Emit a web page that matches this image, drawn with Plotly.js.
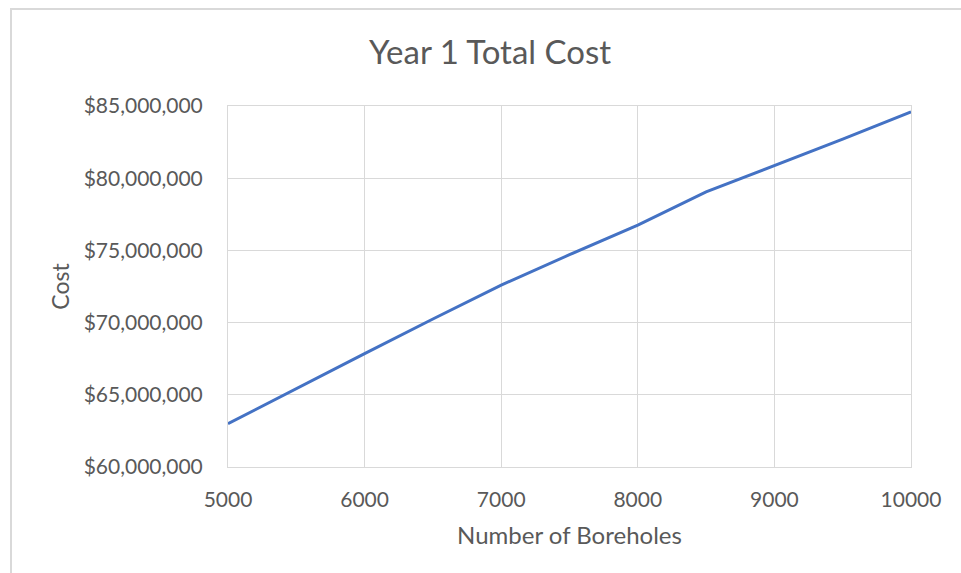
<!DOCTYPE html>
<html>
<head>
<meta charset="utf-8">
<script src="https://cdn.plot.ly/plotly-3.0.1.min.js"></script>
<style>
  html, body { margin: 0; padding: 0; background: #ffffff; }
  #wrap { position: relative; width: 961px; height: 573px; overflow: hidden; }
  #chart { width: 961px; height: 573px; }
  /* chart-area frame, only its top and left edges fall inside the page */
  #frame {
    position: absolute; left: 10px; top: 8px; width: 1000px; height: 1000px;
    border-top: 2px solid #d9d9d9; border-left: 2px solid #d9d9d9;
    pointer-events: none; box-sizing: border-box;
  }
</style>
</head>
<body>
<div id="wrap">
  <div id="chart"></div>
  <div id="frame"></div>
</div>
<script>
// Number of boreholes drilled vs. total first-year cost (USD)
const boreholes = [5000, 5500, 6000, 6500, 7000, 7500, 8000, 8500, 9000, 9500, 10000];
const year1Cost = [63.0e6, 65.45e6, 67.85e6, 70.25e6, 72.6e6, 74.7e6, 76.75e6, 79.05e6, 80.85e6, 82.7e6, 84.6e6];

const fontFamily = 'Lato, "Open Sans", "Liberation Sans", sans-serif';
const textGray = '#595959';
const gridGray = '#d9d9d9';

const trace = {
  x: boreholes,
  y: year1Cost,
  type: 'scatter',
  mode: 'lines',
  line: { color: '#4472C4', width: 3 },
  hoverinfo: 'x+y'
};

const layout = {
  width: 961,
  height: 573,
  margin: { l: 228, r: 50, t: 106, b: 106, pad: 0 },
  paper_bgcolor: '#ffffff',
  plot_bgcolor: '#ffffff',
  showlegend: false,
  font: { family: fontFamily, color: textGray },
  title: {
    text: 'Year 1 Total Cost',
    font: { family: fontFamily, size: 33, color: textGray },
    xref: 'container', x: 0.51, xanchor: 'center',
    yref: 'container', y: 1 - 52 / 573, yanchor: 'middle'
  },
  xaxis: {
    range: [5000, 10000],
    tick0: 5000,
    dtick: 1000,
    tickformat: 'd',
    showgrid: true,
    gridcolor: gridGray,
    gridwidth: 1,
    showline: true,
    linecolor: gridGray,
    linewidth: 1,
    mirror: true,
    zeroline: false,
    ticks: '',
    ticklabelstandoff: 14,
    tickfont: { family: fontFamily, size: 21, color: textGray },
    title: {
      text: 'Number of Boreholes',
      font: { family: fontFamily, size: 24, color: textGray },
      standoff: 16
    }
  },
  yaxis: {
    range: [60e6, 85e6],
    tick0: 60e6,
    dtick: 5e6,
    tickprefix: '$',
    tickformat: ',d',
    showgrid: true,
    gridcolor: gridGray,
    gridwidth: 1,
    showline: true,
    linecolor: gridGray,
    linewidth: 1,
    mirror: true,
    zeroline: false,
    ticks: '',
    ticklabelstandoff: 20,
    tickfont: { family: fontFamily, size: 21, color: textGray },
    title: {
      text: 'Cost',
      font: { family: fontFamily, size: 23, color: textGray },
      standoff: 7
    }
  }
};

Plotly.newPlot('chart', [trace], layout, { displayModeBar: false, staticPlot: true });
</script>
</body>
</html>
